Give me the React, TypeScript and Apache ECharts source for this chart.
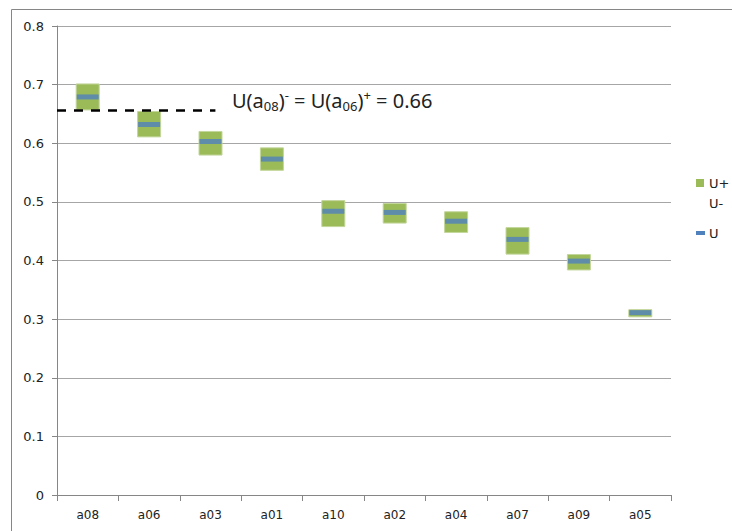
import React, { useEffect, useRef } from "react";
import * as echarts from "echarts";

const categories = ["a08", "a06", "a03", "a01", "a10", "a02", "a04", "a07", "a09", "a05"];
const uLower = [0.656, 0.61, 0.579, 0.553, 0.457, 0.463, 0.447, 0.41, 0.383, 0.303];
const uUpper = [0.702, 0.655, 0.621, 0.593, 0.503, 0.498, 0.484, 0.457, 0.411, 0.317];
const uValue = [0.679, 0.632, 0.603, 0.573, 0.484, 0.482, 0.467, 0.436, 0.399, 0.311];
const dashLevel = 0.656;
const dashEnd = 2.58;
const yTicks = { min: 0, max: 0.8, interval: 0.1 };

const GREEN = "#9BBB59";
const BLUE = "#4F81BD";
const TEXT = "#222";
const LABEL_FONT = "DejaVu Sans";

export default function App() {
  const ref = useRef<HTMLDivElement>(null);
  useEffect(() => {
    if (!ref.current) return;
    const chart = echarts.init(ref.current, null, { renderer: "svg" });
    const span = uUpper.map((u, i) => +(u - uLower[i]).toFixed(4));
    chart.setOption({
      animation: false,
      backgroundColor: "#fff",
      grid: { left: 57, top: 26, right: 61, bottom: 36 },
      xAxis: [
        {
          type: "category",
          data: categories,
          boundaryGap: true,
          axisLine: { lineStyle: { color: "#868686", width: 1 } },
          axisTick: { show: true, length: 6, lineStyle: { color: "#868686" } },
          axisLabel: { color: TEXT, fontSize: 12, fontFamily: LABEL_FONT, margin: 14 },
          splitLine: { show: false },
        },
        { type: "value", min: 0, max: 10, show: false },
      ],
      yAxis: {
        type: "value",
        min: yTicks.min,
        max: yTicks.max,
        interval: yTicks.interval,
        axisLine: { show: true, lineStyle: { color: "#868686" } },
        axisTick: { show: true, length: 5, lineStyle: { color: "#868686" } },
        axisLabel: { color: TEXT, fontSize: 13, fontFamily: LABEL_FONT, margin: 13 },
        splitLine: { show: true, lineStyle: { color: "#a6a6a6", width: 1 } },
      },
      series: [
        {
          name: "U-",
          type: "bar",
          stack: "u",
          data: uLower,
          barWidth: 24,
          itemStyle: { color: "rgba(0,0,0,0)" },
          silent: true,
        },
        {
          name: "U+",
          type: "bar",
          stack: "u",
          data: span,
          barWidth: 24,
          itemStyle: { color: GREEN, borderColor: "#c3d69b", borderWidth: 1 },
        },
        {
          name: "U",
          type: "scatter",
          data: uValue,
          symbol: "rect",
          symbolSize: [22, 5],
          itemStyle: { color: BLUE },
          z: 5,
        },
        {
          name: "dash",
          type: "line",
          xAxisIndex: 1,
          data: [
            [0, dashLevel],
            [dashEnd, dashLevel],
          ],
          symbol: "none",
          lineStyle: { color: "#000", width: 2.5, type: [9, 8] },
          z: 4,
        },
      ],
      graphic: [
        {
          type: "rect",
          shape: { x: 11.5, y: 9.5, width: 760, height: 560 },
          style: { fill: "none", stroke: "#868686", lineWidth: 1 },
          silent: true,
        },
        {
          type: "text",
          left: 232,
          top: 88,
          style: {
            text: "{m|U(a}{sub|08}{m|)}{sup|-}{m| = U(a}{sub|06}{m|)}{sup|+}{m| = 0.66}",
            rich: {
              m: { fontSize: 20, fontFamily: "Noto Sans", fill: TEXT, lineHeight: 28 },
              sub: { fontSize: 13, fontFamily: "Noto Sans", fill: TEXT, lineHeight: 28, padding: [11, 0, 0, 0] },
              sup: { fontSize: 13, fontFamily: "Noto Sans", fill: TEXT, lineHeight: 28, padding: [0, 0, 11, 0] },
            },
          },
        },
        {
          type: "rect",
          shape: { x: 696, y: 179, width: 8, height: 8 },
          style: { fill: GREEN },
        },
        {
          type: "text",
          x: 709,
          y: 183,
          style: { text: "U+", fontSize: 13, fontFamily: LABEL_FONT, fill: TEXT, verticalAlign: "middle" },
        },
        {
          type: "text",
          x: 709,
          y: 203,
          style: { text: "U-", fontSize: 13, fontFamily: LABEL_FONT, fill: TEXT, verticalAlign: "middle" },
        },
        {
          type: "rect",
          shape: { x: 696, y: 231, width: 9, height: 4 },
          style: { fill: BLUE },
        },
        {
          type: "text",
          x: 709,
          y: 233,
          style: { text: "U", fontSize: 13, fontFamily: LABEL_FONT, fill: TEXT, verticalAlign: "middle" },
        },
      ],
    });
    return () => chart.dispose();
  }, []);
  return (
    <div
      ref={ref}
      style={{ position: "absolute", left: 0, top: 0, width: 732, height: 531 }}
    />
  );
}
